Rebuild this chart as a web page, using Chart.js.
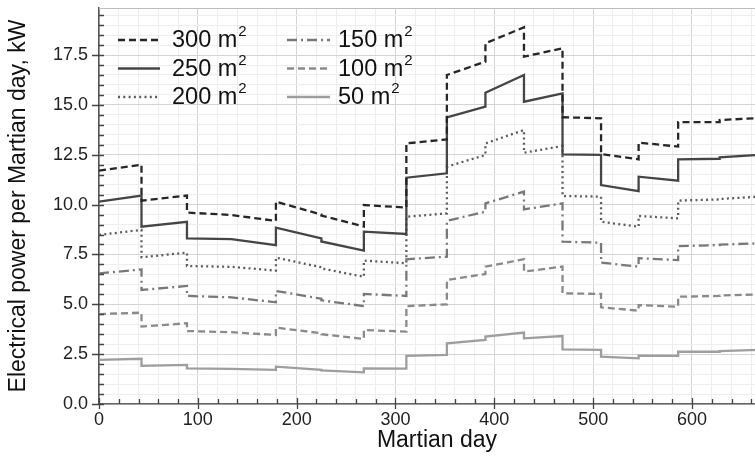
<!DOCTYPE html>
<html>
<head>
<meta charset="utf-8">
<script src="https://cdn.jsdelivr.net/npm/chart.js@4.4.1/dist/chart.umd.min.js"></script>
<style>
  html, body { margin: 0; padding: 0; overflow: hidden; background: #fff; }
  #wrap { width: 775px; height: 460px; }
</style>
</head>
<body>
<div id="wrap"><canvas id="c" width="775" height="460"></canvas></div>
<script>
// Boundaries (Martian day) of the monthly segments
const segmentDays = [0, 43, 89, 134, 179, 225, 268, 311, 352, 391, 430, 469, 508, 546, 586, 628, 668];

// Power per segment: value at the segment start and at the segment end (kW)
const area300Start = [11.70, 10.20, 9.60, 9.48, 10.15, 9.45, 9.98, 13.07, 16.50, 18.09, 17.42, 14.38, 12.54, 13.11, 14.14, 14.24];
const area300End   = [12.00, 10.45, 9.48, 9.18,  9.50, 8.90, 9.85, 13.27, 17.17, 18.89, 17.84, 14.33, 12.27, 12.91, 14.14, 14.34];

const area250Start = [10.15, 8.89, 8.31, 8.27, 8.84, 8.15, 8.64, 11.35, 14.38, 15.61, 15.16, 12.52, 10.98, 11.40, 12.27, 12.37];
const area250End   = [10.45, 9.14, 8.27, 7.97, 8.30, 7.69, 8.53, 11.57, 14.91, 16.50, 15.58, 12.49, 10.68, 11.20, 12.30, 12.49];

const area200Start = [8.48, 7.36, 6.92, 6.88, 7.34, 6.80, 7.19, 9.39, 11.90, 13.07, 12.60, 10.43, 9.14, 9.43, 10.20, 10.28];
const area200End   = [8.73, 7.59, 6.88, 6.69, 6.86, 6.38, 7.06, 9.56, 12.49, 13.74, 12.94, 10.40, 8.89, 9.31, 10.26, 10.40];

const area150Start = [6.55, 5.72, 5.42, 5.35, 5.67, 5.20, 5.52, 7.26, 9.19, 10.06, 9.76, 8.14, 7.09, 7.31, 7.92, 7.99];
const area150End   = [6.75, 5.92, 5.35, 5.10, 5.28, 4.91, 5.42, 7.39, 9.64, 10.65, 10.06, 8.09, 6.89, 7.22, 7.97, 8.06];

const area100Start = [4.51, 3.88, 3.66, 3.60, 3.83, 3.50, 3.71, 4.91, 6.22, 6.89, 6.64, 5.55, 4.85, 4.96, 5.38, 5.44];
const area100End   = [4.58, 4.05, 3.60, 3.46, 3.55, 3.26, 3.63, 5.00, 6.52, 7.26, 6.89, 5.52, 4.68, 4.88, 5.42, 5.50];

const area50Start  = [2.21, 1.91, 1.79, 1.76, 1.87, 1.69, 1.79, 2.41, 3.04, 3.38, 3.29, 2.74, 2.37, 2.42, 2.62, 2.65];
const area50End    = [2.27, 1.96, 1.76, 1.71, 1.71, 1.59, 1.77, 2.46, 3.21, 3.58, 3.41, 2.71, 2.29, 2.41, 2.62, 2.71];

const seriesLabels = ['300 m²', '250 m²', '200 m²', '150 m²', '100 m²', '50 m²'];

const FONT = "'Liberation Sans', Arial, Helvetica, sans-serif";

// Each segment is a straight piece; consecutive segments meet with a vertical jump
function steppedPoints(starts, ends) {
  const pts = [];
  for (let i = 0; i < starts.length; i++) {
    pts.push({ x: segmentDays[i], y: starts[i] });
    pts.push({ x: segmentDays[i + 1], y: ends[i] });
  }
  return pts;
}

const lineStyles = [
  { color: '#262626', dash: [7, 4] },
  { color: '#454545', dash: [] },
  { color: '#5c5c5c', dash: [2, 3.3] },
  { color: '#787878', dash: [10, 4, 2, 4] },
  { color: '#8a8a8a', dash: [7, 4] },
  { color: '#9e9e9e', dash: [] }
];

const seriesValues = [
  [area300Start, area300End],
  [area250Start, area250End],
  [area200Start, area200End],
  [area150Start, area150End],
  [area100Start, area100End],
  [area50Start, area50End]
];

const datasets = seriesValues.map((s, i) => ({
  label: seriesLabels[i],
  data: steppedPoints(s[0], s[1]),
  borderColor: lineStyles[i].color,
  borderDash: lineStyles[i].dash,
  borderWidth: 2.3,
  pointRadius: 0,
  tension: 0,
  fill: false
}));

const isMajorX = v => Math.abs(v / 100 - Math.round(v / 100)) < 1e-6;
const isMajorY = v => Math.abs(v / 2.5 - Math.round(v / 2.5)) < 1e-6;

// Tick marks, frame, legend and axis titles
const decorations = {
  id: 'decorations',
  afterDraw(chart) {
    const ctx = chart.ctx;
    const area = chart.chartArea;
    const xs = chart.scales.x, ys = chart.scales.y;
    ctx.save();

    // top frame line
    ctx.strokeStyle = '#bdbdbd';
    ctx.lineWidth = 1.2;
    ctx.beginPath();
    ctx.moveTo(area.left, area.top + 0.5);
    ctx.lineTo(area.right, area.top + 0.5);
    ctx.stroke();

    // tick marks
    ctx.strokeStyle = '#444';
    ctx.lineWidth = 1.3;
    ctx.beginPath();
    xs.ticks.forEach(t => {
      const px = Math.round(xs.getPixelForValue(t.value)) + 0.5;
      if (isMajorX(t.value)) {
        ctx.moveTo(px, area.bottom - 6); ctx.lineTo(px, area.bottom + 5);
      } else {
        ctx.moveTo(px, area.bottom - 5); ctx.lineTo(px, area.bottom);
      }
    });
    ys.ticks.forEach(t => {
      const py = Math.round(ys.getPixelForValue(t.value)) + 0.5;
      if (isMajorY(t.value)) {
        ctx.moveTo(area.left - 7, py); ctx.lineTo(area.left + 5, py);
      } else {
        ctx.moveTo(area.left, py); ctx.lineTo(area.left + 5, py);
      }
    });
    ctx.stroke();

    // legend: two columns of three entries
    const cols = [{ lx0: 118, lx1: 160, tx: 172 }, { lx0: 287, lx1: 330, tx: 338 }];
    const rows = [40, 68.5, 97];
    chart.data.datasets.forEach((ds, i) => {
      const c = cols[Math.floor(i / 3)];
      const y = rows[i % 3];
      ctx.strokeStyle = ds.borderColor;
      ctx.lineWidth = ds.borderWidth;
      ctx.setLineDash(ds.borderDash);
      ctx.beginPath();
      ctx.moveTo(c.lx0, y); ctx.lineTo(c.lx1, y);
      ctx.stroke();
      ctx.setLineDash([]);
      const label = ds.label;
      const hasSup = label.endsWith('²');
      const base = hasSup ? label.slice(0, -1) : label;
      ctx.fillStyle = '#111';
      ctx.textBaseline = 'middle';
      ctx.textAlign = 'left';
      ctx.font = '23.5px ' + FONT;
      ctx.fillText(base, c.tx, y + 1);
      if (hasSup) {
        const w = ctx.measureText(base).width;
        ctx.font = '15px ' + FONT;
        ctx.fillText('2', c.tx + w + 1, y - 8);
      }
    });

    // axis titles
    ctx.fillStyle = '#111';
    ctx.font = '23px ' + FONT;
    ctx.textAlign = 'center';
    ctx.textBaseline = 'middle';
    ctx.fillText('Martian day', (area.left + area.right) / 2, 441);
    ctx.translate(19, (area.top + area.bottom) / 2);
    ctx.rotate(-Math.PI / 2);
    ctx.fillText('Electrical power per Martian day, kW', 0, 0);
    ctx.restore();
  }
};

new Chart(document.getElementById('c'), {
  type: 'line',
  data: { datasets },
  options: {
    responsive: false,
    animation: false,
    events: [],
    layout: { padding: { top: 8, right: 0, bottom: 0, left: 0 } },
    plugins: { legend: { display: false }, tooltip: { enabled: false } },
    scales: {
      x: {
        type: 'linear',
        min: 0,
        max: 684,
        afterFit(scale) {
          scale.height = 56;
          scale.paddingLeft = 0;
          scale.paddingRight = 0;
        },
        ticks: {
          stepSize: 20,
          includeBounds: false,
          autoSkip: false,
          maxRotation: 0,
          padding: 5,
          color: '#222',
          font: { family: FONT, size: 18 },
          callback: v => (isMajorX(v) ? String(Math.round(v)) : '')
        },
        grid: {
          drawTicks: false,
          color: c => (c.tick && isMajorX(c.tick.value) ? '#d4d4d4' : '#eeeeee'),
          lineWidth: 1
        },
        border: { display: true, color: '#666', width: 1.5 }
      },
      y: {
        type: 'linear',
        min: 0,
        max: 19.86,
        afterFit(scale) {
          scale.width = 99;
          scale.paddingTop = 0;
          scale.paddingBottom = 0;
        },
        ticks: {
          stepSize: 0.5,
          includeBounds: false,
          autoSkip: false,
          padding: 11,
          color: '#222',
          font: { family: FONT, size: 18 },
          callback: v => (isMajorY(v) ? v.toFixed(1) : '')
        },
        grid: {
          drawTicks: false,
          color: c => (c.tick && isMajorY(c.tick.value) ? '#d4d4d4' : '#eeeeee'),
          lineWidth: 1
        },
        border: { display: true, color: '#555', width: 1.5 }
      }
    }
  },
  plugins: [decorations]
});
</script>
</body>
</html>
